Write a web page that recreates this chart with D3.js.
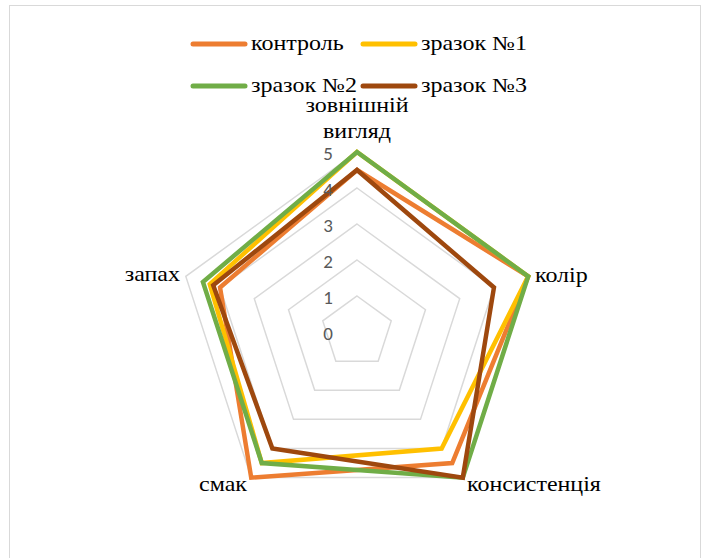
<!DOCTYPE html>
<html>
<head>
<meta charset="utf-8">
<script src="https://cdn.jsdelivr.net/npm/d3@7"></script>
<style>
  html, body { margin: 0; padding: 0; background: #fff; }
  svg { display: block; }
</style>
</head>
<body>
<svg id="chart" width="708" height="558"></svg>
<script>
// Sensory profile: five attributes scored 0–5
const axes = ["зовнішній вигляд", "колір", "консистенція", "смак", "запах"];
const seriesNames = ["контроль", "зразок №1", "зразок №2", "зразок №3"];
const seriesColors = ["#ED7D31", "#FFC000", "#70AD47", "#9E480E"];
const control = [4.5, 5, 4.5, 5, 4];
const sample1 = [5, 5, 4, 4.5, 4.3];
const sample2 = [5, 5, 5, 4.5, 4.5];
const sample3 = [4.5, 4, 5, 4, 4.2];
const tickValues = [0, 1, 2, 3, 4, 5];

const seriesData = [control, sample1, sample2, sample3];

const svg = d3.select("#chart");
const cx = 357, cy = 332, R = 180;

// outer frame
svg.append("rect")
  .attr("x", 9.5).attr("y", 5.5)
  .attr("width", 691).attr("height", 560)
  .attr("fill", "none").attr("stroke", "#d9d9d9").attr("stroke-width", 1);

const r = d3.scaleLinear().domain([0, 5]).range([0, R]);
const angle = d3.scaleLinear().domain([0, axes.length]).range([0, 2 * Math.PI]);

function pt(i, v) {
  const a = angle(i);
  return [cx + r(v) * Math.sin(a), cy - r(v) * Math.cos(a)];
}

// gridline rings
const ring = d3.line().curve(d3.curveLinearClosed);
svg.append("g").selectAll("path")
  .data(tickValues)
  .join("path")
  .attr("d", t => ring(axes.map((_, i) => pt(i, t))))
  .attr("fill", "none")
  .attr("stroke", "#d9d9d9")
  .attr("stroke-width", 1.5);

// series polygons
svg.append("g").selectAll("path")
  .data(seriesData)
  .join("path")
  .attr("d", d => ring(d.map((v, i) => pt(i, v))))
  .attr("fill", "none")
  .attr("stroke", (d, i) => seriesColors[i])
  .attr("stroke-width", 4.5)
  .attr("stroke-linejoin", "miter");

// tick labels along the top axis
svg.append("g").selectAll("text")
  .data(tickValues)
  .join("text")
  .attr("x", cx - 24)
  .attr("y", t => cy - r(t) + 1)
  .attr("dy", "0.36em")
  .attr("text-anchor", "end")
  .attr("font-family", "Carlito, 'Open Sans', 'Liberation Sans', sans-serif")
  .attr("font-size", 19)
  .attr("fill", "#595959")
  .text(t => t);

// serif labels, drawn slightly wide
const catFont = "'Liberation Serif', 'Times New Roman', serif";
function wideText(parent, x, y, anchor, str) {
  parent.append("g")
    .attr("transform", `translate(${x},${y}) scale(1.2,1)`)
    .append("text")
    .attr("dy", "0.32em")
    .attr("text-anchor", anchor)
    .attr("font-family", catFont)
    .attr("font-size", 20)
    .attr("fill", "#000")
    .text(str);
}

// category labels
const catLabels = [
  { lines: ["зовнішній", "вигляд"], x: cx, y: 106, anchor: "middle" },
  { lines: ["колір"], x: 535, y: 276, anchor: "start" },
  { lines: ["консистенція"], x: 467, y: 485, anchor: "start" },
  { lines: ["смак"], x: 247, y: 485, anchor: "end" },
  { lines: ["запах"], x: 180, y: 275, anchor: "end" }
];
catLabels.forEach(c => {
  c.lines.forEach((ln, k) => wideText(svg, c.x, c.y + k * 26, c.anchor, ln));
});

// legend
const legendPos = [[193, 44], [363, 44], [193, 86], [363, 86]];
seriesNames.forEach((name, i) => {
  const [lx, ly] = legendPos[i];
  svg.append("line")
    .attr("x1", lx).attr("x2", lx + 52)
    .attr("y1", ly).attr("y2", ly)
    .attr("stroke", seriesColors[i])
    .attr("stroke-width", 5)
    .attr("stroke-linecap", "round");
  wideText(svg, lx + 58, ly, "start", name);
});
</script>
</body>
</html>
